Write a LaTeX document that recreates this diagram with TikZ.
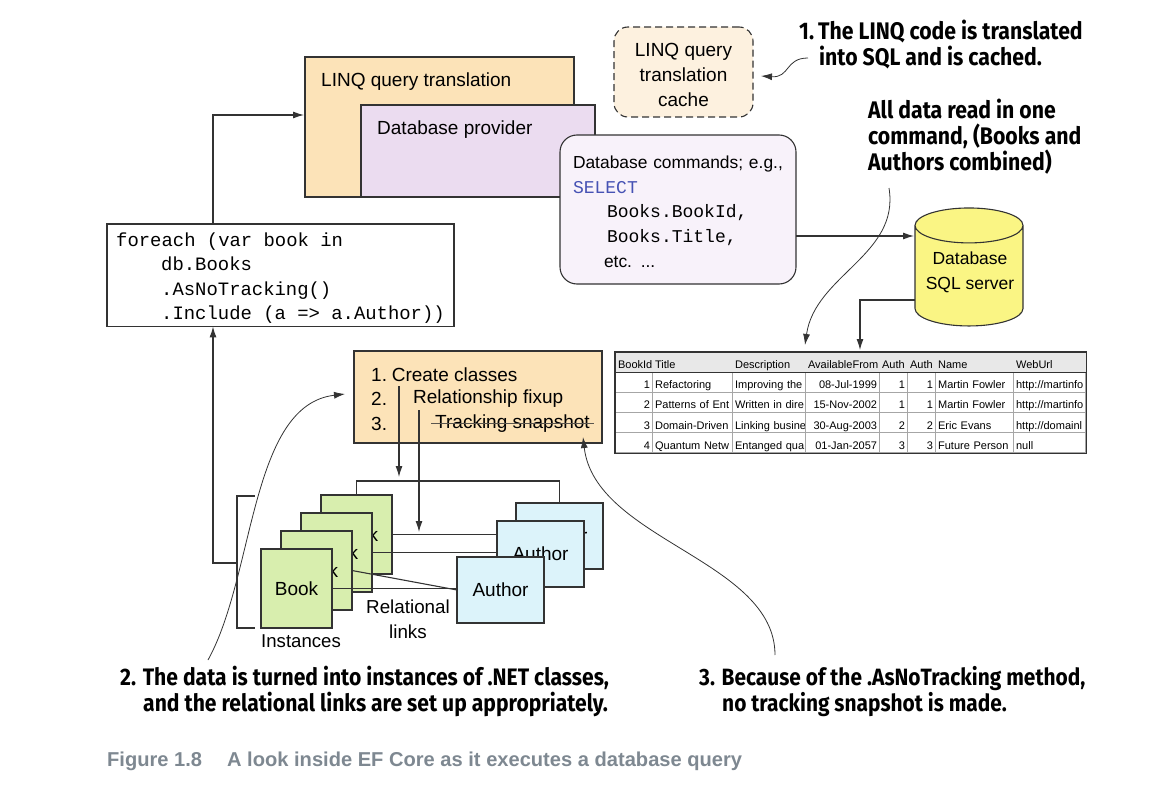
\documentclass[tikz,border=0pt]{standalone}
\usepackage{fontspec}
\usetikzlibrary{arrows.meta,shapes.geometric,matrix}
\setmainfont{Liberation Sans}
\newfontfamily\monofont{Liberation Mono}
\newfontfamily\notefont[FakeStretch=0.885]{Fira Sans}
\definecolor{transfill}{HTML}{FCE3B8}
\definecolor{provfill}{HTML}{EBDCF0}
\definecolor{cmdfill}{HTML}{F8F2FA}
\definecolor{cachefill}{HTML}{FDF1DF}
\definecolor{bookfill}{HTML}{D8EEAE}
\definecolor{authorfill}{HTML}{DCF3FA}
\definecolor{dbfill}{HTML}{FAF584}
\definecolor{linecol}{HTML}{333333}
\definecolor{sqlblue}{HTML}{4652B4}
\definecolor{capgray}{HTML}{7E8891}
\begin{document}
\begin{tikzpicture}[x=1pt,y=-1pt,
    box/.style = {draw=linecol, line width=1.1pt, anchor=north west, outer sep=0pt},
    book/.style = {box, fill=bookfill, minimum width=71pt, minimum height=79pt, font=\fontsize{19}{23}\selectfont},
    author/.style = {box, fill=authorfill, minimum width=87pt, minimum height=66pt, font=\fontsize{19}{23}\selectfont},
    label/.style = {inner sep=0pt, anchor=west, font=\fontsize{19}{24}\selectfont},
    note/.style = {inner sep=0pt, anchor=north west, align=left, font=\notefont\bfseries\fontsize{24}{26}\selectfont},
    link/.style = {draw=linecol, line width=1.1pt, -{Latex[length=11pt,width=7pt]}},
    line/.style = {draw=linecol, line width=1.1pt},
    curve/.style = {draw=linecol, line width=0.8pt, -{Latex[length=11pt,width=7pt]}}]
    \useasboundingbox (0,0) rectangle (1165,789);

    % translation stack
    \node[box, fill=transfill, minimum width=269pt, minimum height=140pt] (trans) at (305,57) {};
    \node[label] (transtext) at (321,82) {LINQ query translation};
    \node[box, fill=provfill, minimum width=234pt, minimum height=92pt] (prov) at (361,105) {};
    \node[label] (provtext) at (377,130) {Database provider};
    \node[box, fill=cmdfill, rounded corners=17pt, minimum height=149pt, text width=210pt, inner xsep=13pt, align=left,
        font=\fontsize{17.4}{24.6}\selectfont] (cmds) at (560,135)
        {\rule{0pt}{17pt}Database commands; e.g.,\\
        {\monofont\fontsize{18}{24.6}\selectfont\color{sqlblue}SELECT}\\
        \hspace{34pt}{\monofont\fontsize{18}{24.6}\selectfont Books.BookId,}\\
        \hspace{34pt}{\monofont\fontsize{18}{24.6}\selectfont Books.Title,}\\
        \hspace{31pt}etc. ...};
    \node[box, fill=cachefill, dashed, dash pattern=on 7pt off 4pt, rounded corners=14pt, minimum width=139pt, minimum height=90pt,
        align=center, font=\fontsize{19}{24.6}\selectfont] (cache) at (614,27) {\rule{0pt}{19pt}LINQ query\\translation\\cache};

    % database and query text
    \node[draw=linecol, line width=1.1pt, fill=dbfill, cylinder, shape border rotate=90, aspect=0.34, outer sep=0pt,
        minimum width=108pt, minimum height=118pt, align=center, font=\fontsize{19}{26}\selectfont] (db) at (969,279)
        {\phantom{Database}\\\phantom{SQL server}};
    \node[inner sep=0pt, align=center, font=\fontsize{17.5}{25}\selectfont] (dbtext) at (970,272) {Database\\SQL server};
    \node[box, fill=white, align=left, inner xsep=9pt, inner ysep=3pt, minimum width=347pt, minimum height=102pt,
        font=\monofont\fontsize{18.9}{24.5}\selectfont] (query) at (107,224)
        {\rule{0pt}{19pt}foreach (var book in\\
        \hspace{45pt}db.Books\\
        \hspace{45pt}.AsNoTracking()\\
        \hspace{45pt}.Include (a => a.Author))};

    % result table
    \matrix (tbl) [matrix of nodes, anchor=north west, inner sep=0pt, column sep=-0.8pt, row sep=-0.8pt,
        nodes={draw=gray!70, line width=0.8pt, outer sep=0pt, inner xsep=2.5pt, inner ysep=0pt, minimum height=20.2pt,
            text height=15pt, text depth=2pt, align=right, font=\fontsize{11}{12}\selectfont},
        column 1/.style={nodes={text width=32pt}},
        column 2/.style={nodes={text width=75pt, align=left}},
        column 3/.style={nodes={text width=68pt, align=left}},
        column 4/.style={nodes={text width=69pt}},
        column 5/.style={nodes={text width=23pt}},
        column 6/.style={nodes={text width=23pt}},
        column 7/.style={nodes={text width=73pt, align=left}},
        column 8/.style={nodes={text width=67pt, align=left}},
        row 1/.style={nodes={fill=gray!18, align=left, draw=none}}] at (615,352) {
        BookId & Title & Description & AvailableFrom & Auth & Auth & Name & WebUrl \\
        1 & Refactoring & \mbox{Improving the} & 08-Jul-1999 & 1 & 1 & Martin Fowler & \mbox{http://martinfo} \\
        2 & \mbox{Patterns of Ent} & \mbox{Written in dire} & 15-Nov-2002 & 1 & 1 & Martin Fowler & \mbox{http://martinfo} \\
        3 & Domain-Driven & \mbox{Linking busine} & 30-Aug-2003 & 2 & 2 & Eric Evans & \mbox{http://domainl} \\
        4 & \mbox{Quantum Netw} & \mbox{Entanged qua} & 01-Jan-2057 & 3 & 3 & Future Person & null \\
    };
    \draw[draw=linecol, line width=1.2pt] (tbl.north west) rectangle (tbl.south east);
    \draw[draw=linecol, line width=1.2pt] (tbl-1-1.south west) -- (tbl-1-8.south east);

    % fixup steps
    \node[box, fill=transfill, minimum width=248pt, minimum height=92pt] (steps) at (354,351) {};
    \node[label] (step1) at (371,375) {1.\kern-0.5pt\ Create classes};
    \node[label] (step2) at (371,399) {2.};
    \node[label] (step2b) at (413,399) {Relationship fixup};
    \node[label] (step3) at (371,424) {3.};
    \node[label] (step3b) at (435,424) {Tracking snapshot};
    \draw[line, draw=linecol!80!transfill] ([xshift=-4pt,yshift=0.5pt]step3b.west) -- ([xshift=4pt,yshift=0.5pt]step3b.east);

    % books and authors
    \node[book] (book4) at (321,495) {Book};
    \node[author] (author3) at (516,503) {Author};
    \draw[line] (book4.east) -- (book4.east -| author3.west);
    \node[book] (book3) at (301,513) {Book};
    \node[author] (author2) at (497,521) {Author};
    \draw[line] (book3.east) -- (book3.east -| author2.west);
    \node[book] (book2) at (281,531) {Book};
    \node[book] (book1) at (261,549) {Book};
    \node[author] (author1) at (457,557) {Author};
    \draw[line] (book2.east) -- (author1.west);
    \draw[line] (book1.east) -- (book1.east -| author1.west);
    \coordinate (toplink) at (0,481);
    \draw[line] (book4.north) |- (toplink -| author3.north) -- (author3.north);
    \node[inner sep=0pt, align=center, font=\fontsize{18.8}{24.6}\selectfont] (rel) at (408,619) {Relational\\links};
    \node[inner sep=0pt, font=\fontsize{18.6}{24}\selectfont] (inst) at (301,641) {Instances};

    % bracket round the instances
    \coordinate (brtop) at (255,496);
    \coordinate (brbot) at (255,628);
    \coordinate (brmid) at (237,563);
    \draw[line] (brtop) -| (brmid) |- (brbot);
    \coordinate (stem) at (query.south -| 213,0);
    \draw[link] (brmid) -| (stem);
    \coordinate (up) at (213,224);
    \coordinate (transin) at (304,115);
    \draw[link] (up) |- (transin);

    % arrows
    \coordinate (dbin) at (914,236);
    \draw[link] (dbin -| cmds.east) -- (dbin);
    \coordinate (dbout) at (915,300);
    \coordinate (tblin) at (860,350);
    \draw[link] (dbout) -| (tblin);
    \coordinate (create) at (399,386);
    \coordinate (createend) at (399,477);
    \draw[link] (create) -- (createend);
    \coordinate (fixup) at (419,410);
    \coordinate (fixupend) at (419,532);
    \draw[link] (fixup) -- (fixupend);

    % notes
    \node[note] (note1) at (799,20) {1.\,The LINQ code is translated\\\hspace{20pt}into SQL and is cached.};
    \node[note] (note0) at (868,99) {All data read in one\\command, (Books and\\Authors combined)};
    \node[note, font=\notefont\bfseries\fontsize{23.85}{26}\selectfont] (note2) at (120,666) {2. The data is turned into instances of .NET classes,\\\hspace{23pt}and the relational links are set up appropriately.};
    \node[note, font=\notefont\bfseries\fontsize{23.6}{26}\selectfont] (note3) at (699,666) {3. Because of the .AsNoTracking method,\\\hspace{23pt}no tracking snapshot is made.};
    \node[inner sep=0pt, anchor=west, text=capgray, font=\bfseries\fontsize{20.1}{24}\selectfont] (caption) at (107,761) {Figure 1.8\hspace{25pt}A look inside EF Core as it executes a database query};

    % note curves
    \coordinate (c1) at (808,58);
    \coordinate (c1e) at (761,76);
    \draw[curve] (c1) .. controls (785,58) and (790,78) .. (c1e);
    \coordinate (c0) at (889,188);
    \coordinate (c0e) at (805,345);
    \draw[curve] (c0) .. controls (900,255) and (815,275) .. (c0e);
    \coordinate (c2) at (208,660);
    \coordinate (c2e) at (345,394);
    \draw[curve] (c2) .. controls (255,575) and (250,405) .. (c2e);
    \coordinate (c3) at (775,655);
    \coordinate (c3e) at (583,437);
    \draw[curve] (c3) .. controls (775,560) and (595,540) .. (c3e);
\end{tikzpicture}
\end{document}
